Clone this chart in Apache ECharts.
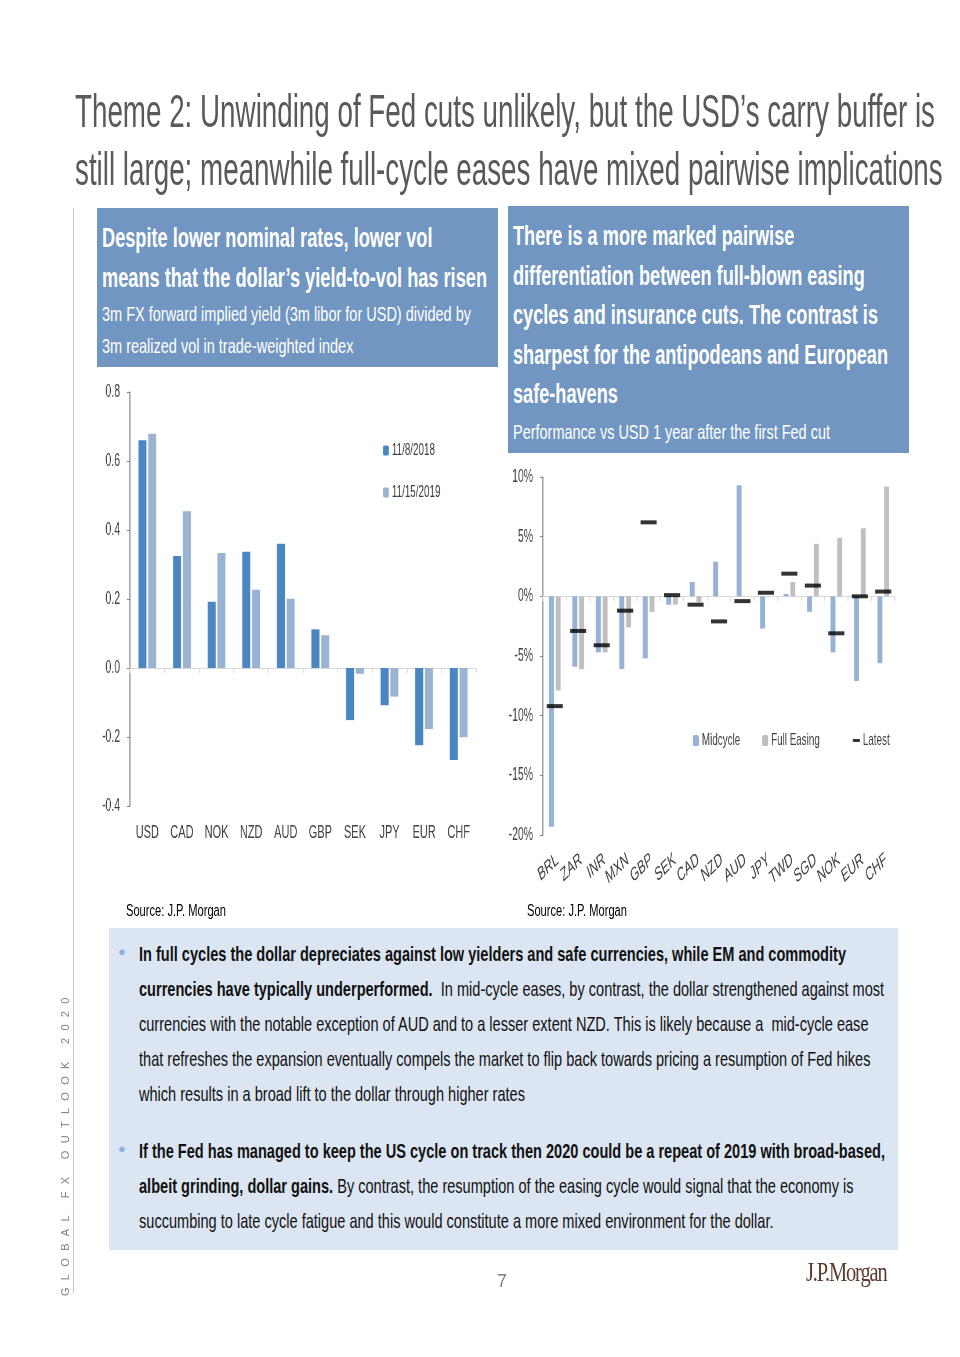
<!DOCTYPE html>
<html>
<head>
<meta charset="utf-8">
<script src="https://cdn.jsdelivr.net/npm/echarts@6/dist/echarts.min.js"></script>
<style>
  html, body { margin:0; padding:0; background:#fff; }
  #page { position:relative; width:960px; height:1357px; overflow:hidden; font-family:"Liberation Sans",Arial,sans-serif; }
  #chart { position:absolute; left:0; top:0; width:1655px; height:1357px; transform:scaleX(0.58); transform-origin:0 0; }
  .abs { position:absolute; white-space:nowrap; }
  .fit { position:absolute; white-space:nowrap; transform-origin:0 0; }
  .fit span.ln { display:inline-block; }
  .title { left:75px; top:82px; font-size:47px; line-height:58px; color:#595959; }
  .hbox { position:absolute; background:#7196c1; color:#fff; }
  .hb { font-weight:bold; font-size:27px; line-height:39.5px; }
  .hs { font-size:21px; line-height:32px; }
  .src { font-size:16px; color:#000; }
  .bbox { position:absolute; left:109px; top:928px; width:789px; height:322px; background:#dce6f2; }
  .para { left:30px; font-size:21px; line-height:35px; color:#111; }
  .bul { position:absolute; left:9px; color:#8db3e2; font-size:13px; }
  .vtext { position:absolute; left:-88px; top:1137px; width:306px; transform:rotate(-90deg); font-size:11px; letter-spacing:7.3px; color:#808080; white-space:nowrap; }
</style>
</head>
<body>
<div id="page">
  <div id="chart"></div>
  <div class="fit title" data-w="860"><span class="ln">Theme 2: Unwinding of Fed cuts unlikely, but the USD’s carry buffer is</span><br><span class="ln">still large; meanwhile full-cycle eases have mixed pairwise implications</span></div>
  <div class="hbox" style="left:97px;top:208px;width:401px;height:159px;">
    <div class="fit hb" style="left:5px;top:11px;" data-w="385" data-line="1"><span class="ln">Despite lower nominal rates, lower vol</span><br><span class="ln">means that the dollar’s yield-to-vol has risen</span></div>
    <div class="fit hs" style="left:5px;top:90px;" data-w="369"><span class="ln">3m FX forward implied yield (3m libor for USD) divided by</span><br><span class="ln">3m realized vol in trade-weighted index</span></div>
  </div>
  <div class="hbox" style="left:508px;top:206px;width:401px;height:247px;">
    <div class="fit hb" style="left:5px;top:11px;" data-w="375" data-line="3"><span class="ln">There is a more marked pairwise</span><br><span class="ln">differentiation between full-blown easing</span><br><span class="ln">cycles and insurance cuts. The contrast is</span><br><span class="ln">sharpest for the antipodeans and European</span><br><span class="ln">safe-havens</span></div>
    <div class="fit hs" style="left:5px;top:210px;" data-w="317"><span class="ln">Performance vs USD 1 year after the first Fed cut</span></div>
  </div>
  <div class="fit src" style="left:126px;top:902px;" data-w="100"><span class="ln">Source: J.P. Morgan</span></div>
  <div class="fit src" style="left:527px;top:902px;" data-w="100"><span class="ln">Source: J.P. Morgan</span></div>
  <div class="bbox">
    <span class="bul" style="top:16px;">●</span>
    <div class="fit para" style="top:8px;" data-w="707"><span class="ln"><b>In full cycles the dollar depreciates against low yielders and safe currencies, while EM and commodity</b></span><br><span class="ln"><b>currencies have typically underperformed.</b>&nbsp; In mid-cycle eases, by contrast, the dollar strengthened against most</span><br><span class="ln">currencies with the notable exception of AUD and to a lesser extent NZD. This is likely because a&nbsp; mid-cycle ease</span><br><span class="ln">that refreshes the expansion eventually compels the market to flip back towards pricing a resumption of Fed hikes</span><br><span class="ln">which results in a broad lift to the dollar through higher rates</span></div>
    <span class="bul" style="top:213px;">●</span>
    <div class="fit para" style="top:205px;" data-w="746"><span class="ln"><b>If the Fed has managed to keep the US cycle on track then 2020 could be a repeat of 2019 with broad-based,</b></span><br><span class="ln"><b>albeit grinding, dollar gains.</b> By contrast, the resumption of the easing cycle would signal that the economy is</span><br><span class="ln">succumbing to late cycle fatigue and this would constitute a more mixed environment for the dollar.</span></div>
  </div>
  <div class="abs" style="left:73px;top:208px;width:1px;height:1085px;background:#c8c8c8;"></div>
  <div class="vtext">GLOBAL FX OUTLOOK 2020</div>
  <div class="abs" style="left:497px;top:1271px;font-size:18px;color:#7f7f7f;">7</div>
  <div class="abs" style="left:806px;top:1256px;font-family:'Liberation Serif','DejaVu Serif',serif;font-size:28px;color:#5b3a29;letter-spacing:-1.5px;transform:scaleX(0.73);transform-origin:left top;">J.P.Morgan</div>
</div>
<script>
// ---- Left chart data ----
const leftCategories = ['USD','CAD','NOK','NZD','AUD','GBP','SEK','JPY','EUR','CHF'];
const yield2018 = [0.66, 0.325, 0.192, 0.337, 0.36, 0.112, -0.151, -0.108, -0.224, -0.267];
const yield2019 = [0.679, 0.454, 0.333, 0.227, 0.201, 0.095, -0.017, -0.083, -0.177, -0.201];
const leftTicks = { min: -0.4, max: 0.8, interval: 0.2 };

// ---- Right chart data ----
const rightCategories = ['BRL','ZAR','INR','MXN','GBP','SEK','CAD','NZD','AUD','JPY','TWD','SGD','NOK','EUR','CHF'];
const midcycle   = [-19.3, -5.9, -4.7, -6.1, -5.2, -0.7, 1.2, 2.9, 9.3, -2.7, 0.2, -1.3, -4.7, -7.1, -5.6];
const fullEasing = [-7.9, -6.1, -4.7, -2.6, -1.3, -0.7, -0.5, null, null, null, 1.2, 4.4, 4.9, 5.7, 9.2];
const latest     = [-9.2, -2.9, -4.1, -1.2, 6.2, 0.1, -0.7, -2.1, -0.4, 0.3, 1.9, 0.9, -3.1, 0.0, 0.4];
const rightTicks = { min: -20, max: 10, interval: 5 };

// squeeze text blocks horizontally (condensed typeface look)
document.querySelectorAll('.fit').forEach(el => {
  const lines = el.querySelectorAll('span.ln');
  const idx = parseInt(el.getAttribute('data-line') || '0', 10);
  const w = lines[idx].getBoundingClientRect().width;
  const target = parseFloat(el.getAttribute('data-w'));
  el.style.transform = 'scaleX(' + (target / w) + ')';
});

// The chart canvas is drawn wide and squeezed by S (so labels look condensed)
const S = 0.58;
const px = v => v / S;

const FONT = '"Liberation Sans",Arial,sans-serif';
const chart = echarts.init(document.getElementById('chart'), null, { renderer: 'canvas' });
const axisGray = '#7f7f7f';
const zeroGray = '#d9d9d9';
const labelColor = '#404040';

chart.setOption({
  animation: false,
  textStyle: { fontFamily: FONT },
  grid: [
    { left: px(130), top: 392, width: px(346), height: 414 },
    { left: px(543), top: 477, width: px(352), height: 358 }
  ],
  legend: [
    { data: ['11/8/2018', '11/15/2019'], orient: 'vertical', left: px(380), top: 437, itemWidth: px(6), itemHeight: 10, itemGap: 25,
      textStyle: { fontFamily: FONT, fontSize: 17, color: labelColor } },
    { data: ['Midcycle', 'Full Easing'], orient: 'horizontal', left: px(690), top: 727, itemWidth: px(6), itemHeight: 11, itemGap: px(22),
      textStyle: { fontFamily: FONT, fontSize: 17, color: labelColor } },
    { data: ['Latest'], left: px(850), top: 727, itemWidth: px(7), itemHeight: 3,
      textStyle: { fontFamily: FONT, fontSize: 17, color: labelColor } }
  ],
  xAxis: [
    { type: 'category', gridIndex: 0, data: leftCategories, position: 'bottom',
      axisLine: { show: false, onZero: false }, axisTick: { show: false },
      axisLabel: { fontFamily: FONT, fontSize: 19, color: labelColor, margin: 17 } },
    { type: 'category', gridIndex: 0, data: leftCategories, position: 'top',
      axisLine: { show: true, onZero: true, lineStyle: { color: zeroGray, width: 1 } },
      axisTick: { show: true, inside: true, length: 5, lineStyle: { color: zeroGray, width: px(1) } },
      axisLabel: { show: false } },
    { type: 'category', gridIndex: 1, data: rightCategories, position: 'bottom',
      axisLine: { show: false, onZero: false }, axisTick: { show: false },
      axisLabel: { fontFamily: FONT, fontSize: 19, color: labelColor, rotate: 30, margin: 15, interval: 0, verticalAlign: 'top' } },
    { type: 'category', gridIndex: 1, data: rightCategories, position: 'top',
      axisLine: { show: true, onZero: true, lineStyle: { color: zeroGray, width: 1 } },
      axisTick: { show: true, inside: true, length: 5, lineStyle: { color: zeroGray, width: px(1) } },
      axisLabel: { show: false } }
  ],
  yAxis: [
    { type: 'value', gridIndex: 0, min: leftTicks.min, max: leftTicks.max, interval: leftTicks.interval,
      axisLine: { show: true, lineStyle: { color: axisGray, width: px(1) } },
      axisTick: { show: true, length: px(3), lineStyle: { color: axisGray } },
      splitLine: { show: false },
      axisLabel: { fontFamily: FONT, fontSize: 18, color: labelColor, margin: px(10), formatter: v => v.toFixed(1) } },
    { type: 'value', gridIndex: 1, min: rightTicks.min, max: rightTicks.max, interval: rightTicks.interval,
      axisLine: { show: true, lineStyle: { color: axisGray, width: px(1) } },
      axisTick: { show: true, length: px(3), lineStyle: { color: axisGray } },
      splitLine: { show: false },
      axisLabel: { fontFamily: FONT, fontSize: 18, color: labelColor, margin: px(10), formatter: v => v + '%' } }
  ],
  series: [
    { name: '11/8/2018', type: 'bar', xAxisIndex: 0, yAxisIndex: 0, data: yield2018,
      barWidth: px(8), barGap: '22%', itemStyle: { color: '#4a87c2' } },
    { name: '11/15/2019', type: 'bar', xAxisIndex: 0, yAxisIndex: 0, data: yield2019,
      barWidth: px(8), barGap: '22%', itemStyle: { color: '#9bb3d3' } },
    { name: 'Midcycle', type: 'bar', xAxisIndex: 2, yAxisIndex: 1, data: midcycle,
      barWidth: px(5), barGap: '35%', itemStyle: { color: '#97b2d6' } },
    { name: 'Full Easing', type: 'bar', xAxisIndex: 2, yAxisIndex: 1, data: fullEasing,
      barWidth: px(5), barGap: '35%', itemStyle: { color: '#bfbfbf' } },
    { name: 'Latest', type: 'scatter', xAxisIndex: 2, yAxisIndex: 1, data: latest,
      symbol: 'rect', symbolSize: [px(16), 4], z: 5, itemStyle: { color: '#000' } }
  ]
});
</script>
</body>
</html>
